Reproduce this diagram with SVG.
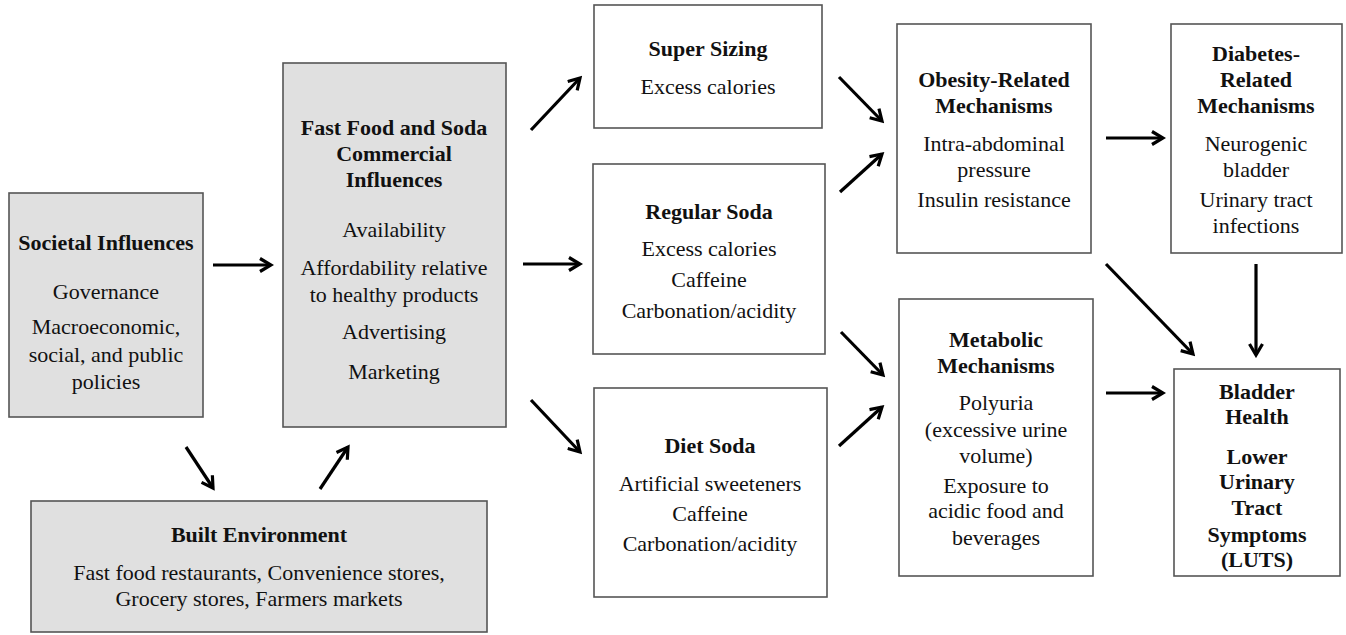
<svg xmlns="http://www.w3.org/2000/svg" width="1346" height="635" viewBox="0 0 1346 635">
<defs>
<style>
.box{fill:#ffffff;stroke:#555555;stroke-width:1.6}
.gbox{fill:#e0e0e0;stroke:#555555;stroke-width:1.6}
text{font-family:"Liberation Serif","Times New Roman",serif;font-size:22px;fill:#111111;text-anchor:middle}
.t{font-weight:bold}
.c{stroke:#000000;stroke-width:3.2;fill:none;marker-end:url(#ah)}
</style>
<marker id="ah" viewBox="0 0 16 16" markerWidth="16" markerHeight="16" refX="13" refY="8" orient="auto" markerUnits="userSpaceOnUse">
<path d="M2,1.5 L13,8 L2,14.5" fill="none" stroke="#000000" stroke-width="3.2" stroke-linejoin="miter"/>
</marker>
</defs>
<rect width="1346" height="635" fill="#ffffff"/>

<g id="societal">
<rect class="gbox" x="9" y="193" width="194" height="224"/>
<text class="t" x="106" y="250">Societal Influences</text>
<text x="106" y="299">Governance</text>
<text x="106" y="334">Macroeconomic,</text>
<text x="106" y="362">social, and public</text>
<text x="106" y="389">policies</text>
</g>

<g id="fastfood">
<rect class="gbox" x="283" y="63" width="223" height="364"/>
<text class="t" x="394" y="135">Fast Food and Soda</text>
<text class="t" x="394" y="161">Commercial</text>
<text class="t" x="394" y="187">Influences</text>
<text x="394" y="237">Availability</text>
<text x="394" y="275">Affordability relative</text>
<text x="394" y="302">to healthy products</text>
<text x="394" y="339">Advertising</text>
<text x="394" y="379">Marketing</text>
</g>

<g id="built">
<rect class="gbox" x="31" y="501" width="456" height="131"/>
<text class="t" x="259" y="542">Built Environment</text>
<text x="259" y="580">Fast food restaurants, Convenience stores,</text>
<text x="259" y="606">Grocery stores, Farmers markets</text>
</g>

<g id="supersizing">
<rect class="box" x="594" y="5" width="228" height="123"/>
<text class="t" x="708" y="56">Super Sizing</text>
<text x="708" y="94">Excess calories</text>
</g>

<g id="regularsoda">
<rect class="box" x="593" y="164" width="232" height="190"/>
<text class="t" x="709" y="219">Regular Soda</text>
<text x="709" y="256">Excess calories</text>
<text x="709" y="287">Caffeine</text>
<text x="709" y="318">Carbonation/acidity</text>
</g>

<g id="dietsoda">
<rect class="box" x="594" y="388" width="233" height="209"/>
<text class="t" x="710" y="453">Diet Soda</text>
<text x="710" y="491">Artificial sweeteners</text>
<text x="710" y="521">Caffeine</text>
<text x="710" y="551">Carbonation/acidity</text>
</g>

<g id="obesity">
<rect class="box" x="897" y="24" width="194" height="229"/>
<text class="t" x="994" y="87">Obesity-Related</text>
<text class="t" x="994" y="113">Mechanisms</text>
<text x="994" y="151">Intra-abdominal</text>
<text x="994" y="177">pressure</text>
<text x="994" y="207">Insulin resistance</text>
</g>

<g id="diabetes">
<rect class="box" x="1171" y="24" width="171" height="229"/>
<text class="t" x="1256" y="61">Diabetes-</text>
<text class="t" x="1256" y="87">Related</text>
<text class="t" x="1256" y="113">Mechanisms</text>
<text x="1256" y="151">Neurogenic</text>
<text x="1256" y="177">bladder</text>
<text x="1256" y="207">Urinary tract</text>
<text x="1256" y="233">infections</text>
</g>

<g id="metabolic">
<rect class="box" x="899" y="299" width="194" height="277"/>
<text class="t" x="996" y="347">Metabolic</text>
<text class="t" x="996" y="373">Mechanisms</text>
<text x="996" y="410">Polyuria</text>
<text x="996" y="437">(excessive urine</text>
<text x="996" y="463">volume)</text>
<text x="996" y="493">Exposure to</text>
<text x="996" y="518">acidic food and</text>
<text x="996" y="545">beverages</text>
</g>

<g id="bladder">
<rect class="box" x="1174" y="369" width="166" height="207"/>
<text class="t" x="1257" y="399">Bladder</text>
<text class="t" x="1257" y="424">Health</text>
<text class="t" x="1257" y="464">Lower</text>
<text class="t" x="1257" y="489">Urinary</text>
<text class="t" x="1257" y="515">Tract</text>
<text class="t" x="1257" y="542">Symptoms</text>
<text class="t" x="1257" y="567">(LUTS)</text>
</g>

<g id="connectors">
<line class="c" x1="213" y1="265" x2="271" y2="265"/>
<line class="c" x1="186" y1="447" x2="213" y2="488"/>
<line class="c" x1="320" y1="489" x2="348" y2="447"/>
<line class="c" x1="531" y1="130" x2="580" y2="78"/>
<line class="c" x1="523" y1="264" x2="580" y2="264"/>
<line class="c" x1="531" y1="400" x2="580" y2="452"/>
<line class="c" x1="839" y1="77" x2="882" y2="121"/>
<line class="c" x1="840" y1="192" x2="882" y2="154"/>
<line class="c" x1="841" y1="332" x2="883" y2="375"/>
<line class="c" x1="839" y1="446" x2="882" y2="407"/>
<line class="c" x1="1106" y1="138" x2="1163" y2="138"/>
<line class="c" x1="1106" y1="264" x2="1193" y2="354"/>
<line class="c" x1="1256" y1="264" x2="1256" y2="355"/>
<line class="c" x1="1106" y1="393" x2="1163" y2="393"/>
</g>
</svg>
